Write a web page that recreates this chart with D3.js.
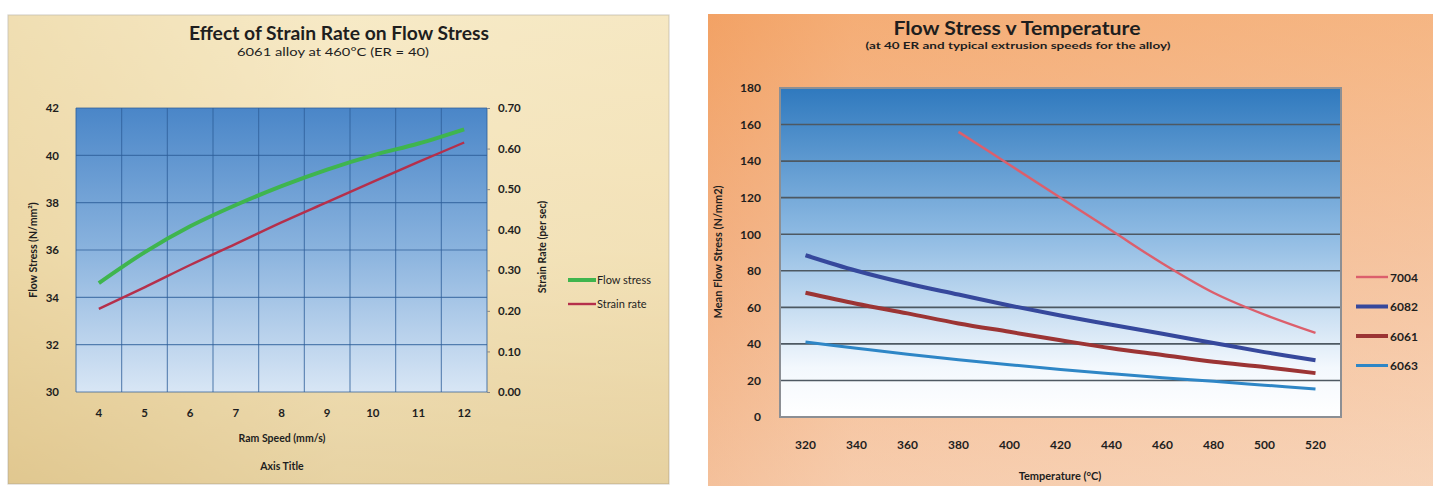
<!DOCTYPE html>
<html>
<head>
<meta charset="utf-8">
<script src="https://cdn.jsdelivr.net/npm/d3@7"></script>
<style>
  body { margin: 0; background: #ffffff; }
  svg { display: block; }
  text { font-family: Lato, "Open Sans", sans-serif; fill: #1e1e1e; }
</style>
</head>
<body>
<svg id="chart" width="1433" height="486"></svg>
<script>
// ---- Effect of strain rate on flow stress (6061 at 460°C, ER = 40) ----
const ramSpeeds = [4, 5, 6, 7, 8, 9, 10, 11, 12];
const flowStress = [34.6, 35.9, 37.0, 37.9, 38.7, 39.4, 40.0, 40.5, 41.1];
const strainRate = [0.205, 0.258, 0.313, 0.365, 0.418, 0.468, 0.518, 0.567, 0.615];
const flowStressTicks = [30, 32, 34, 36, 38, 40, 42];
const strainRateTicks = [0, 0.1, 0.2, 0.3, 0.4, 0.5, 0.6, 0.7];

// ---- Mean flow stress against temperature ----
const temperatures = [320, 340, 360, 380, 400, 420, 440, 460, 480, 500, 520];
const alloyNames = ["7004", "6082", "6061", "6063"];
const stress7004 = [null, null, null, 156, 138, 120, 102, 84, 68, 56, 46];
const stress6082 = [88.5, 80, 73, 67, 61, 55.5, 50.5, 45.5, 40.5, 35.5, 31];
const stress6061 = [68, 62, 56.7, 51.2, 46.6, 42, 37.6, 33.9, 30.2, 27.3, 24];
const stress6063 = [41, 37.6, 34.3, 31.3, 28.6, 26, 23.7, 21.5, 19.5, 17.4, 15.3];
const meanStressTicks = [0, 20, 40, 60, 80, 100, 120, 140, 160, 180];

const svg = d3.select("#chart");
const defs = svg.append("defs");

function linearGrad(id, x1, y1, x2, y2, stops) {
  const g = defs.append("linearGradient").attr("id", id)
    .attr("x1", x1).attr("y1", y1).attr("x2", x2).attr("y2", y2);
  stops.forEach(([o, c]) => g.append("stop").attr("offset", o).attr("stop-color", c));
}

linearGrad("beige", 0, 0, 0, 1, [[0, "#f8ecc9"], [0.5, "#f2e0b4"], [1, "#dcc289"]]);
linearGrad("beigeSide", 0, 0, 1, 0, [[0, "#e7cf98"], [0.5, "#f6e8c4"], [1, "#f4e4bc"]]);
linearGrad("leftPlot", 0, 0, 0, 1, [[0, "#4a86c8"], [0.5, "#8ab3de"], [1, "#d8e6f5"]]);
linearGrad("orange", 0, 0, 0, 1, [[0, "#f5a96c"], [0.5, "#f5c09a"], [1, "#f8dcc6"]]);
linearGrad("orangeSide", 0, 0, 1, 0, [[0, "#ee975a"], [0.2, "#f4b384"], [1, "#f6c9a6"]]);
linearGrad("rightPlot", 0, 0, 0, 1, [[0, "#2f79be"], [0.45, "#8fbbe3"], [0.85, "#f3f8fd"], [1, "#ffffff"]]);

// ================= Left chart =================
const L = { x0: 76, x1: 487, y0: 108, y1: 392 };
svg.append("rect").attr("x", 8).attr("y", 15).attr("width", 661).attr("height", 469)
  .attr("fill", "url(#beige)");
svg.append("rect").attr("x", 8).attr("y", 15).attr("width", 661).attr("height", 469)
  .attr("fill", "url(#beigeSide)").attr("opacity", 0.45)
  .attr("stroke", "#a9a294").attr("stroke-width", 1.2);

const xL = d3.scaleBand().domain(ramSpeeds).range([L.x0, L.x1]);
const yL = d3.scaleLinear().domain([30, 42]).range([L.y1, L.y0]);
const yR = d3.scaleLinear().domain([0, 0.7]).range([L.y1, L.y0]);

svg.append("rect").attr("x", L.x0).attr("y", L.y0)
  .attr("width", L.x1 - L.x0).attr("height", L.y1 - L.y0).attr("fill", "url(#leftPlot)");

const gridL = svg.append("g").attr("stroke", "#2d5f99").attr("stroke-opacity", 0.75).attr("stroke-width", 1.1);
flowStressTicks.forEach(t => gridL.append("line")
  .attr("x1", L.x0).attr("x2", L.x1).attr("y1", yL(t)).attr("y2", yL(t)));
ramSpeeds.forEach(s => gridL.append("line")
  .attr("x1", xL(s)).attr("x2", xL(s)).attr("y1", L.y0).attr("y2", L.y1));
gridL.append("line").attr("x1", L.x1).attr("x2", L.x1).attr("y1", L.y0).attr("y2", L.y1);

// axes
const axLeft = svg.append("g").attr("transform", `translate(${L.x0 - 14},0)`)
  .call(d3.axisLeft(yL).tickValues(flowStressTicks).tickSize(0).tickFormat(d3.format("d")));
const axRight = svg.append("g").attr("transform", `translate(${L.x1},0)`)
  .call(d3.axisRight(yR).tickValues(strainRateTicks).tickSize(3).tickPadding(8).tickFormat(d3.format(".2f")));
const axBottom = svg.append("g").attr("transform", `translate(0,${L.y1 + 14})`)
  .call(d3.axisBottom(xL).tickSize(0));
[axLeft, axRight, axBottom].forEach(a => {
  a.select(".domain").remove();
  a.selectAll("text").attr("font-size", 11.5).attr("font-weight", 700).attr("fill", "#262626");
  a.selectAll("line").attr("stroke", "#8a8a8a");
});

const lineL = d3.line().curve(d3.curveCatmullRom.alpha(0.5))
  .x((d, i) => xL(ramSpeeds[i]) + xL.bandwidth() / 2);
svg.append("path").datum(strainRate).attr("fill", "none")
  .attr("stroke", "#b52f4b").attr("stroke-width", 2.4)
  .attr("d", lineL.y(d => yR(d)));
svg.append("path").datum(flowStress).attr("fill", "none")
  .attr("stroke", "#3fb54e").attr("stroke-width", 4)
  .attr("d", lineL.y(d => yL(d)));

// titles
svg.append("text").attr("x", 339).attr("y", 40).attr("text-anchor", "middle")
  .attr("font-size", 18).attr("font-weight", 700).attr("textLength", 300)
  .attr("lengthAdjust", "spacingAndGlyphs").text("Effect of Strain Rate on Flow Stress");
svg.append("text").attr("x", 333).attr("y", 56).attr("text-anchor", "middle")
  .attr("font-size", 12).attr("textLength", 192).attr("lengthAdjust", "spacingAndGlyphs")
  .attr("fill", "#444").text("6061 alloy at 460°C (ER = 40)");
svg.append("text").attr("transform", "translate(37,250) rotate(-90)").attr("text-anchor", "middle")
  .attr("font-size", 10.5).attr("font-weight", 700).text("Flow Stress (N/mm²)");
svg.append("text").attr("transform", "translate(546,247) rotate(-90)").attr("text-anchor", "middle")
  .attr("font-size", 10.5).attr("font-weight", 700).text("Strain Rate (per sec)");
svg.append("text").attr("x", 282).attr("y", 442).attr("text-anchor", "middle")
  .attr("font-size", 10.5).attr("font-weight", 700).text("Ram Speed (mm/s)");
svg.append("text").attr("x", 282).attr("y", 470).attr("text-anchor", "middle")
  .attr("font-size", 10.5).attr("font-weight", 700).text("Axis Title");

// legend
const legL = [["Flow stress", "#3fb54e", 4, 280], ["Strain rate", "#b52f4b", 2.4, 304]];
legL.forEach(([name, col, w, y]) => {
  svg.append("line").attr("x1", 568).attr("x2", 596).attr("y1", y).attr("y2", y)
    .attr("stroke", col).attr("stroke-width", w);
  svg.append("text").attr("x", 597).attr("y", y + 4).attr("font-size", 11).text(name);
});

// ================= Right chart =================
const R = { x0: 780, x1: 1341, y0: 88, y1: 417 };
svg.append("rect").attr("x", 708).attr("y", 14).attr("width", 725).attr("height", 472)
  .attr("fill", "url(#orange)");
svg.append("rect").attr("x", 708).attr("y", 14).attr("width", 725).attr("height", 472)
  .attr("fill", "url(#orangeSide)").attr("opacity", 0.4);

const xT = d3.scaleBand().domain(temperatures).range([R.x0, R.x1]);
const yT = d3.scaleLinear().domain([0, 180]).range([R.y1, R.y0]);

svg.append("rect").attr("x", R.x0).attr("y", R.y0)
  .attr("width", R.x1 - R.x0).attr("height", R.y1 - R.y0).attr("fill", "url(#rightPlot)");
const gridR = svg.append("g").attr("stroke", "#4d5862").attr("stroke-width", 1.6);
meanStressTicks.slice(1, -1).forEach(t => gridR.append("line")
  .attr("x1", R.x0).attr("x2", R.x1).attr("y1", yT(t)).attr("y2", yT(t)));
svg.append("rect").attr("x", R.x0).attr("y", R.y0)
  .attr("width", R.x1 - R.x0).attr("height", R.y1 - R.y0)
  .attr("fill", "none").attr("stroke", "#8c8f94").attr("stroke-width", 2);

const axT = svg.append("g").attr("transform", `translate(${R.x0 - 16},0)`)
  .call(d3.axisLeft(yT).tickValues(meanStressTicks).tickSize(0));
const axTB = svg.append("g").attr("transform", `translate(0,${R.y1 + 20})`)
  .call(d3.axisBottom(xT).tickSize(0));
[axT, axTB].forEach(a => {
  a.select(".domain").remove();
  a.selectAll("text").attr("font-size", 12).attr("font-weight", 700).attr("fill", "#262626");
});

const seriesR = [
  { name: alloyNames[0], values: stress7004, color: "#dc5f6c", width: 2.4 },
  { name: alloyNames[1], values: stress6082, color: "#36489c", width: 4 },
  { name: alloyNames[2], values: stress6061, color: "#9c3434", width: 4 },
  { name: alloyNames[3], values: stress6063, color: "#2e86c6", width: 3 }
];
const lineR = d3.line().curve(d3.curveCatmullRom.alpha(0.5))
  .defined(d => d != null)
  .x((d, i) => xT(temperatures[i]) + xT.bandwidth() / 2)
  .y(d => yT(d));
seriesR.forEach(s => svg.append("path").datum(s.values).attr("fill", "none")
  .attr("stroke", s.color).attr("stroke-width", s.width).attr("d", lineR));

seriesR.forEach((s, i) => {
  const y = 277 + i * 29.5;
  svg.append("line").attr("x1", 1356).attr("x2", 1388).attr("y1", y).attr("y2", y)
    .attr("stroke", s.color).attr("stroke-width", s.width);
  svg.append("text").attr("x", 1390).attr("y", y + 4.5).attr("font-size", 12)
    .attr("font-weight", 700).text(s.name);
});

svg.append("text").attr("x", 1017).attr("y", 35).attr("text-anchor", "middle")
  .attr("font-size", 18).attr("font-weight", 700).attr("textLength", 247)
  .attr("lengthAdjust", "spacingAndGlyphs").text("Flow Stress v Temperature");
svg.append("text").attr("x", 1018).attr("y", 49).attr("text-anchor", "middle")
  .attr("font-size", 9.5).attr("font-weight", 700).attr("textLength", 305)
  .attr("lengthAdjust", "spacingAndGlyphs").text("(at 40 ER and typical extrusion speeds for the alloy)");
svg.append("text").attr("transform", "translate(722,252) rotate(-90)").attr("text-anchor", "middle")
  .attr("font-size", 11).attr("font-weight", 700).text("Mean Flow Stress (N/mm2)");
svg.append("text").attr("x", 1060).attr("y", 480).attr("text-anchor", "middle")
  .attr("font-size", 11).attr("font-weight", 700).text("Temperature (°C)");
</script>
</body>
</html>
